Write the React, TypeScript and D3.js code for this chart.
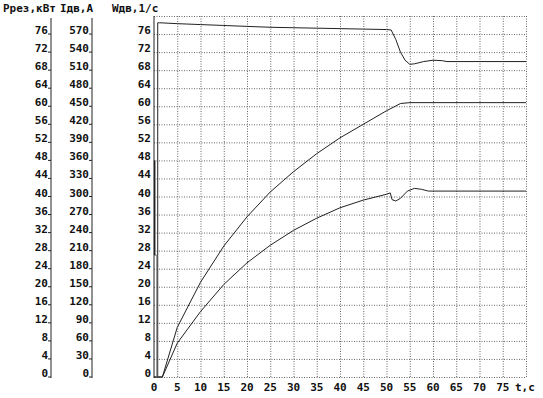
// @ts-nocheck
import * as d3 from "d3";
import React from "react";

// time, s
const timeTicks = [0, 5, 10, 15, 20, 25, 30, 35, 40, 45, 50, 55, 60, 65, 70, 75];
// left scales (same grid rows)
const wTicks = [0, 4, 8, 12, 16, 20, 24, 28, 32, 36, 40, 44, 48, 52, 56, 60, 64, 68, 72, 76];
const pTicks = [0, 4, 8, 12, 16, 20, 24, 28, 32, 36, 40, 44, 48, 52, 56, 60, 64, 68, 72, 76];
const iTicks = [0, 30, 60, 90, 120, 150, 180, 210, 240, 270, 300, 330, 360, 390, 420, 450, 480, 510, 540, 570];

// speed Wдв
const speed = [
  [0.8, 0], [0.8, 78.5], [1.2, 78.5], [5, 78.3], [10, 78.1], [15, 77.9], [20, 77.7],
  [25, 77.5], [30, 77.4], [35, 77.3], [40, 77.2], [45, 77.1], [50, 77], [51, 76.9],
  [52, 74.8], [53, 72], [54, 70.2], [55, 69.3], [56, 69.4], [58, 69.9], [60, 70.2],
  [62, 70.1], [63, 69.9], [80, 69.9],
];
// current Iдв (in P units)
const current = [
  [0, 0], [1.8, 0], [5, 11], [10, 21], [15, 29], [20, 35.5], [25, 41], [30, 45.5],
  [35, 49.5], [40, 53], [45, 56], [50, 59], [53, 60.6], [55, 60.8], [80, 60.8],
];
// cutting power Pрез
const power = [
  [0, 0], [1.8, 0], [5, 7.5], [10, 14.5], [15, 20.5], [20, 25.3], [25, 29.2], [30, 32.5],
  [35, 35.2], [40, 37.5], [45, 39.2], [50, 40.5], [50.8, 40.8], [51.2, 39.3], [52, 39],
  [53, 39.6], [54.5, 41.2], [56, 41.8], [57.5, 41.6], [59, 41.2], [80, 41.2],
];
// start spike near t=0
const spikeBox = [[0, 27], [0.6, 27], [0.6, 0]];
const spikeLine = [[0.15, 27], [0.15, 48]];

const font = "'DejaVu Sans Mono', monospace";

export default function App() {
  const W = 543, H = 398;
  const x = d3.scaleLinear([0, 80], [154, 526]);
  const y = d3.scaleLinear([0, 80], [377, 16]);
  const yI = d3.scaleLinear([0, 600], [377, 16]);
  const line = d3.line().x((d) => x(d[0])).y((d) => y(d[1]));
  const grid = "#666";

  const leftAxis = (ticks, scale, ax, key) => (
    <g key={key}>
      <line x1={ax} x2={ax} y1={18} y2={378} stroke="#222" />
      {ticks.map((t) => (
        <g key={t}>
          <line x1={ax - 3} x2={ax} y1={scale(t)} y2={scale(t)} stroke="#222" />
          <text x={ax - 3} y={scale(t)} textAnchor="end">{t}</text>
        </g>
      ))}
    </g>
  );

  return (
    <svg width={W} height={H} style={{ position: "absolute", left: 0, top: 0, background: "#fff" }}>
      <g fontFamily={font} fontSize={11} fontWeight="bold" fill="#111">
        <text x={3} y={12}>Pрез,кВт</text>
        <text x={60} y={12}>Iдв,A</text>
        <text x={112} y={12}>Wдв,1/с</text>
        {leftAxis(pTicks, y, 51, "p")}
        {leftAxis(iTicks, yI, 92, "i")}
        {wTicks.map((t) => (
          <text key={t} x={151} y={y(t)} textAnchor="end">{t}</text>
        ))}
        {timeTicks.map((t) => (
          <text key={t} x={x(t)} y={391} textAnchor="middle">{t}</text>
        ))}
        <text x={515} y={391}>t,c</text>
      </g>
      <g stroke={grid} strokeDasharray="1,1.5" strokeWidth={1}>
        {d3.range(4, 81, 4).map((v) => (
          <line key={"h" + v} x1={x(0)} x2={x(80)} y1={y(v) + 0.5} y2={y(v) + 0.5} />
        ))}
        <line x1={x(0)} x2={x(80)} y1={y(0) + 0.5} y2={y(0) + 0.5} />
        {d3.range(5, 81, 5).map((v) => (
          <line key={"v" + v} x1={x(v) + 0.5} x2={x(v) + 0.5} y1={y(80)} y2={y(0)} />
        ))}
      </g>
      <line x1={x(0)} x2={x(0)} y1={y(80)} y2={y(0) + 1} stroke="#222" />
      <g fill="none" stroke="#222" strokeWidth={1}>
        <path d={line(speed)} />
        <path d={line(current)} />
        <path d={line(power)} />
        <path d={line(spikeBox)} stroke="#777" />
        <path d={line(spikeLine)} strokeWidth={1.5} />
      </g>
    </svg>
  );
}
